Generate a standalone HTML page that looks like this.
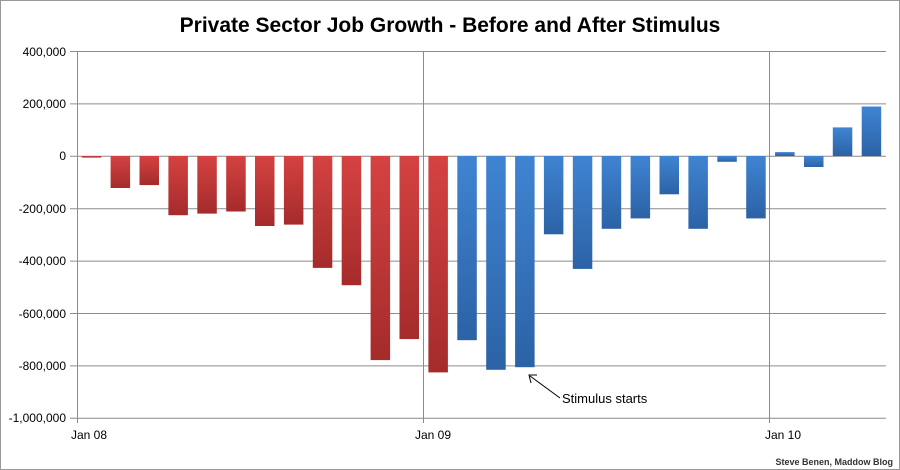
<!DOCTYPE html>
<html><head><meta charset="utf-8"><style>
html,body{margin:0;padding:0;background:#fff;}
svg{display:block;}
text{font-family:"Liberation Sans",Arial,sans-serif;}
</style></head><body>
<svg width="900" height="470" viewBox="0 0 900 470" xmlns="http://www.w3.org/2000/svg">
<defs>
<linearGradient id="r" x1="0" y1="0" x2="0" y2="1"><stop offset="0" stop-color="#d54242"/><stop offset="1" stop-color="#a52b2b"/></linearGradient>
<linearGradient id="b" x1="0" y1="0" x2="0" y2="1"><stop offset="0" stop-color="#3f84d2"/><stop offset="1" stop-color="#2c62a6"/></linearGradient>
</defs>
<rect x="0.5" y="0.5" width="899" height="469" fill="#fff" stroke="#999"/>
<text x="450" y="32" text-anchor="middle" font-size="21" font-weight="bold" fill="#000">Private Sector Job Growth - Before and After Stimulus</text>
<g stroke="#8c8c8c" stroke-width="1">
<line x1="70" y1="51.5" x2="886" y2="51.5"/>
<line x1="70" y1="103.9" x2="886" y2="103.9"/>
<line x1="70" y1="156.3" x2="886" y2="156.3"/>
<line x1="70" y1="208.7" x2="886" y2="208.7"/>
<line x1="70" y1="261.1" x2="886" y2="261.1"/>
<line x1="70" y1="313.5" x2="886" y2="313.5"/>
<line x1="70" y1="365.9" x2="886" y2="365.9"/>
<line x1="70" y1="418.3" x2="886" y2="418.3"/>
<line x1="77.5" y1="51" x2="77.5" y2="423"/>
<line x1="423.5" y1="51" x2="423.5" y2="423"/>
<line x1="769.5" y1="51" x2="769.5" y2="423"/>
</g>
<g font-size="12" fill="#000" text-anchor="end">
<text x="66" y="56">400,000</text>
<text x="66" y="108">200,000</text>
<text x="66" y="160">0</text>
<text x="66" y="213">-200,000</text>
<text x="66" y="265">-400,000</text>
<text x="66" y="318">-600,000</text>
<text x="66" y="370">-800,000</text>
<text x="66" y="422">-1,000,000</text>
</g>
<g font-size="12" fill="#000">
<text x="71" y="439">Jan 08</text>
<text x="415" y="439">Jan 09</text>
<text x="765" y="439">Jan 10</text>
</g>
<g fill="url(#r)">
<rect x="81.7" y="156" width="19.5" height="1.6"/>
<rect x="110.6" y="156" width="19.5" height="32.0"/>
<rect x="139.5" y="156" width="19.5" height="29.1"/>
<rect x="168.4" y="156" width="19.5" height="59.2"/>
<rect x="197.3" y="156" width="19.5" height="57.6"/>
<rect x="226.2" y="156" width="19.5" height="55.5"/>
<rect x="255.0" y="156" width="19.5" height="70.0"/>
<rect x="283.9" y="156" width="19.5" height="68.6"/>
<rect x="312.8" y="156" width="19.5" height="111.9"/>
<rect x="341.7" y="156" width="19.5" height="129.2"/>
<rect x="370.6" y="156" width="19.5" height="204.1"/>
<rect x="399.5" y="156" width="19.5" height="183.1"/>
<rect x="428.4" y="156" width="19.5" height="216.4"/>
</g>
<g fill="url(#b)">
<rect x="457.3" y="156" width="19.5" height="184.2"/>
<rect x="486.2" y="156" width="19.5" height="213.8"/>
<rect x="515.1" y="156" width="19.5" height="211.2"/>
<rect x="543.9" y="156" width="19.5" height="78.3"/>
<rect x="572.8" y="156" width="19.5" height="112.9"/>
<rect x="601.7" y="156" width="19.5" height="72.8"/>
<rect x="630.6" y="156" width="19.5" height="62.4"/>
<rect x="659.5" y="156" width="19.5" height="38.3"/>
<rect x="688.4" y="156" width="19.5" height="72.8"/>
<rect x="717.3" y="156" width="19.5" height="5.8"/>
<rect x="746.2" y="156" width="19.5" height="62.4"/>
<rect x="775.1" y="152.1" width="19.5" height="3.9"/>
<rect x="804.0" y="156" width="19.5" height="11.0"/>
<rect x="832.8" y="127.4" width="19.5" height="28.6"/>
<rect x="861.7" y="106.5" width="19.5" height="49.5"/>
</g>
<line x1="560" y1="398" x2="530" y2="376" stroke="#000" stroke-width="1"/>
<polyline points="531,383 529,375 537,375" fill="none" stroke="#000" stroke-width="1"/>
<text x="562" y="403" font-size="13" fill="#000">Stimulus starts</text>
<text x="893" y="465" text-anchor="end" font-size="9" font-weight="bold" fill="#333">Steve Benen, Maddow Blog</text>
</svg>
</body></html>
